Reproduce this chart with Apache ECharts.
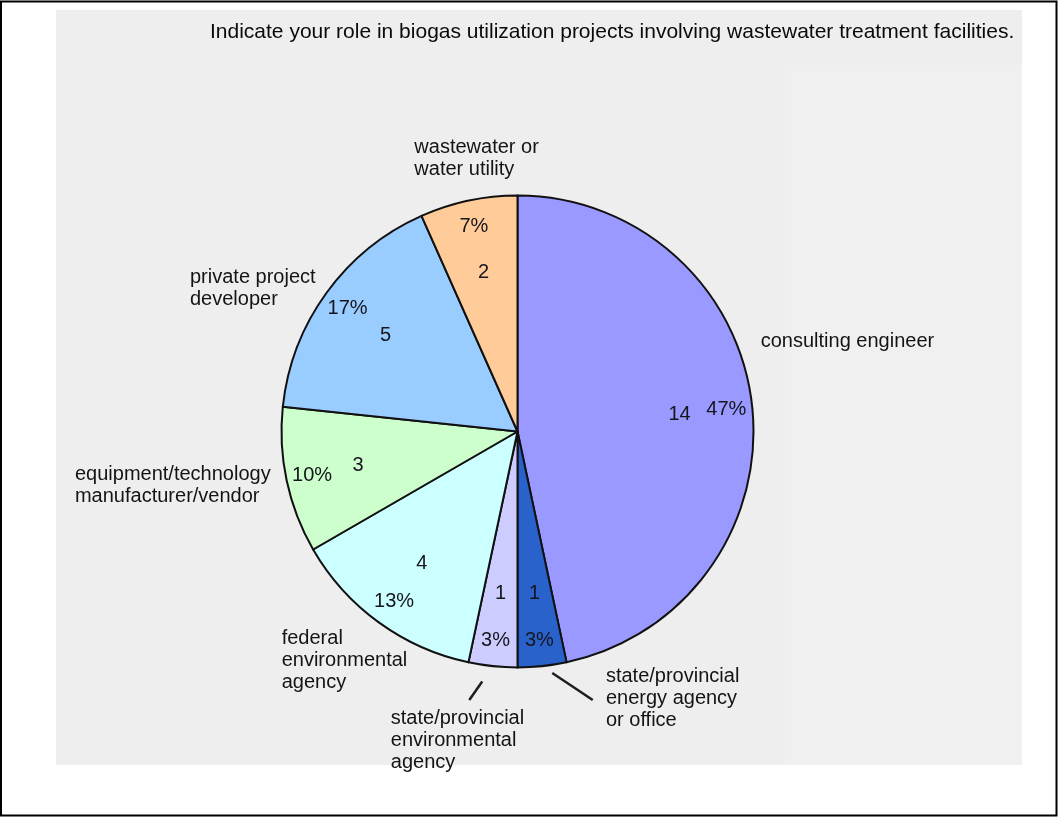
<!DOCTYPE html>
<html>
<head>
<meta charset="utf-8">
<script src="https://cdn.jsdelivr.net/npm/echarts@6/dist/echarts.min.js"></script>
<style>
html,body{margin:0;padding:0;background:#ffffff;}
#chart{width:1058px;height:817px;}
</style>
</head>
<body>
<div id="chart"></div>
<script>
// ---- data ----
const chartTitle = 'Indicate your role in biogas utilization projects involving wastewater treatment facilities.';
const categories = [
  'consulting engineer',
  'state/provincial\nenergy agency\nor office',
  'state/provincial\nenvironmental\nagency',
  'federal\nenvironmental\nagency',
  'equipment/technology\nmanufacturer/vendor',
  'private project\ndeveloper',
  'wastewater or\nwater utility'
];
const counts = [14, 1, 1, 4, 3, 5, 2];

// ---- styling ----
const sliceColors = ['#9999ff', '#2a62cc', '#ccccff', '#ccffff', '#ccffcc', '#99ccff', '#ffcc99'];
const FONT = '"Liberation Sans", Arial, Helvetica, sans-serif';
const CENTER = [517.5, 431.5];
const RADIUS = 236;
// offsets of the outer name labels from the library's default anchor (left edge, middle)
const nameOffsets = [[3.5, -65.5], [8.2, -1.7], [-73.5, 40], [-92.1, 37.6], [-206.7, 5.1], [-131.6, -3.8], [-49.1, -41.7]];
// leader lines drawn only for the two smallest slices
const leaderLines = {1: {length: 34, length2: 47, start: 0.2}, 2: {length: 34, length2: 20, start: 0.45}};

const mainData = categories.map(function (name, i) {
  const ll = leaderLines[i];
  return {
    name: name,
    value: counts[i],
    itemStyle: {color: sliceColors[i]},
    labelLine: ll ? {show: true, length: ll.length, length2: ll.length2}
                  : {show: false, length: 0, length2: 0}
  };
});
const plainData = categories.map(function (name, i) { return {name: name, value: counts[i]}; });

const innerLabel = {
  show: true, position: 'inside', color: '#15151c', fontSize: 20, fontFamily: FONT
};

const chart = echarts.init(document.getElementById('chart'), null, {renderer: 'canvas'});
chart.setOption({
  backgroundColor: '#ffffff',
  animation: false,
  title: {
    text: chartTitle,
    left: 210, top: 22, padding: 0,
    textStyle: {fontSize: 21, fontWeight: 'normal', color: '#0a0a0a', fontFamily: FONT}
  },
  graphic: [
    {type: 'rect', z: -10, silent: true, shape: {x: 56, y: 10, width: 966, height: 755}, style: {fill: '#eeeeee'}},
    {type: 'rect', z: -9, silent: true, shape: {x: 785, y: 65, width: 237, height: 700}, style: {fill: '#f0f0f0'}},
    {type: 'rect', z: 100, silent: true, shape: {x: 1, y: 1.5, width: 1055.5, height: 814}, style: {fill: null, stroke: '#000000', lineWidth: 2}}
  ],
  series: [
    {
      type: 'pie',
      center: CENTER,
      radius: [0, RADIUS],
      startAngle: 90,
      clockwise: true,
      silent: true,
      avoidLabelOverlap: false,
      emphasis: {disabled: true},
      itemStyle: {borderColor: '#111111', borderWidth: 2},
      label: {
        show: true, position: 'outside', formatter: '{b}',
        color: '#141414', fontSize: 20, lineHeight: 22, fontFamily: FONT,
        distanceToLabelLine: 5
      },
      labelLine: {lineStyle: {color: '#1e1e1e', width: 2.5}},
      labelLayout: function (p) {
        const i = p.dataIndex;
        const r = p.labelRect;
        const isLeft = p.align ? p.align === 'right' : (r.x + r.width / 2 < CENTER[0]);
        const anchorX = isLeft ? r.x + r.width : r.x;
        const anchorY = r.y + r.height / 2;
        const off = nameOffsets[i];
        const out = {x: anchorX + off[0], y: anchorY + off[1], align: 'left', verticalAlign: 'middle'};
        const ll = leaderLines[i];
        if (ll && p.labelLinePoints && p.labelLinePoints.length) {
          const a = p.labelLinePoints[0];
          const b = p.labelLinePoints[p.labelLinePoints.length - 1];
          out.labelLinePoints = [
            [a[0] + (b[0] - a[0]) * ll.start, a[1] + (b[1] - a[1]) * ll.start],
            [b[0], b[1]]
          ];
        }
        return out;
      },
      data: mainData
    },
    {
      type: 'pie', center: CENTER, radius: [136, 184], startAngle: 90, clockwise: true,
      silent: true, avoidLabelOverlap: false, emphasis: {disabled: true},
      itemStyle: {color: 'rgba(0,0,0,0)', borderWidth: 0},
      label: Object.assign({formatter: '{c}'}, innerLabel),
      labelLine: {show: false},
      data: plainData
    },
    {
      type: 'pie', center: CENTER, radius: [186, 228], startAngle: 90, clockwise: true,
      silent: true, avoidLabelOverlap: false, emphasis: {disabled: true},
      itemStyle: {color: 'rgba(0,0,0,0)', borderWidth: 0},
      label: Object.assign({formatter: function (p) { return Math.round(p.percent) + '%'; }}, innerLabel),
      labelLine: {show: false},
      data: plainData
    }
  ]
});
</script>
</body>
</html>
